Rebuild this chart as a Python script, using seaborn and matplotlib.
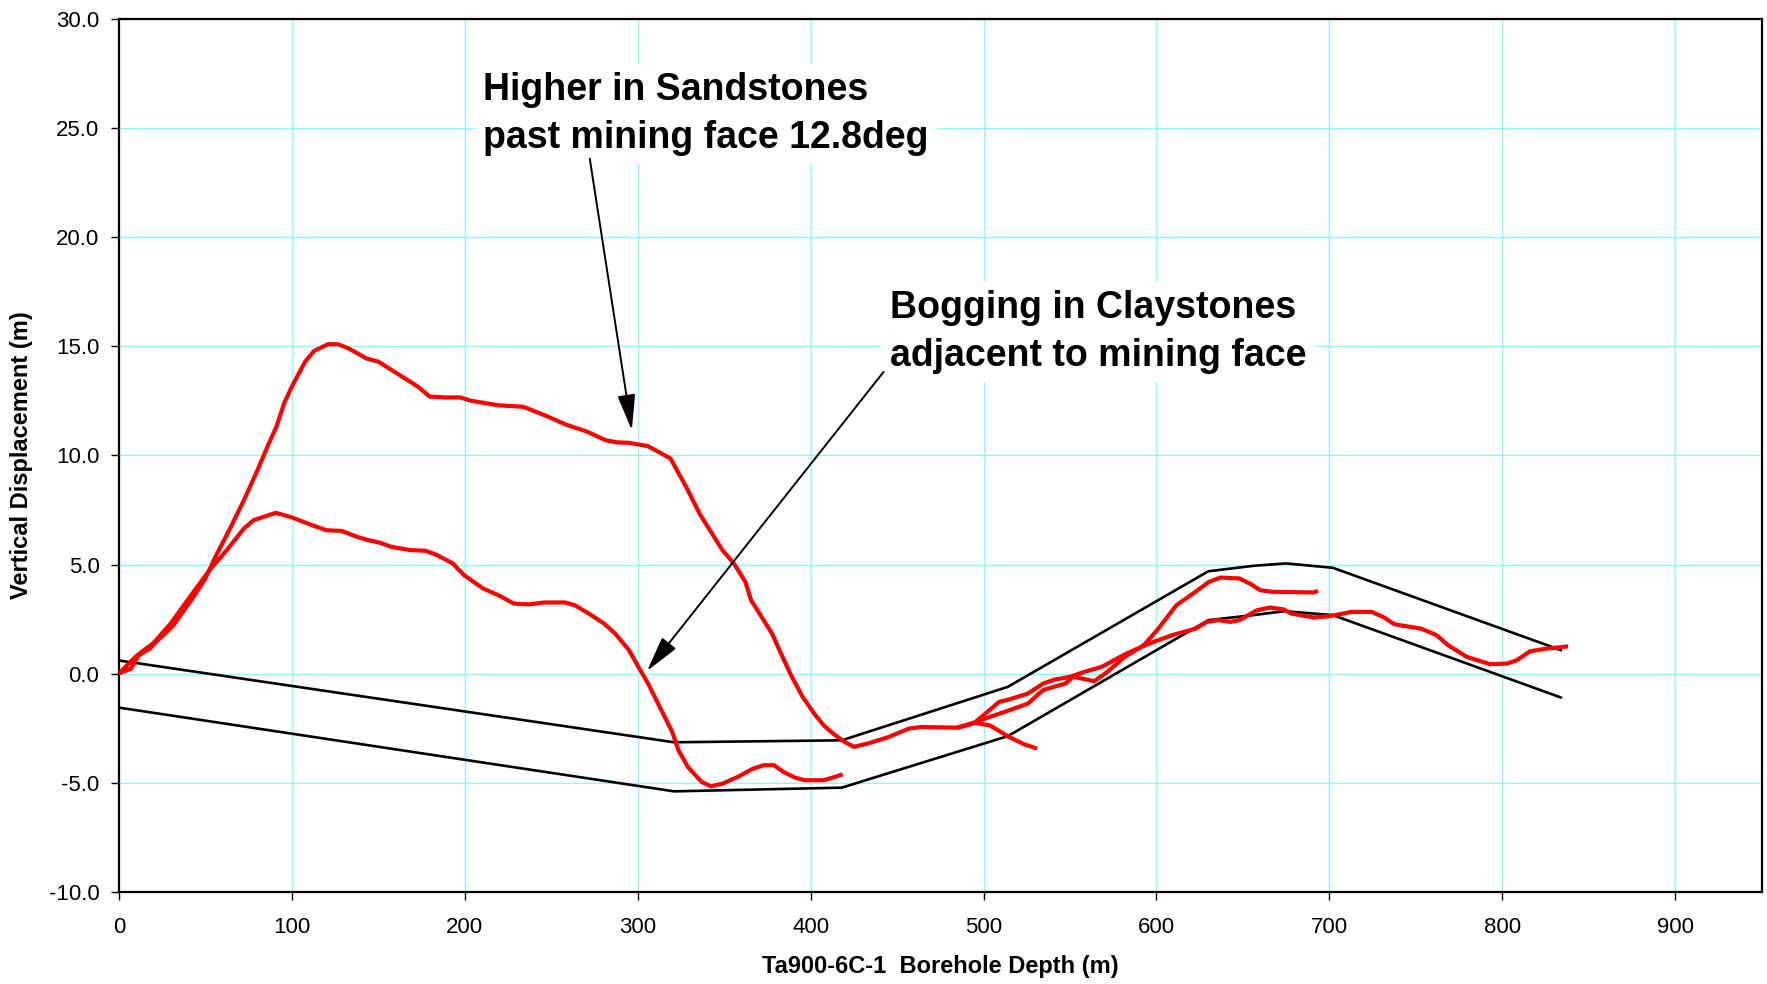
import numpy as np
import pandas as pd
import matplotlib
matplotlib.use("Agg")
import matplotlib.pyplot as plt
import seaborn as sns

# ---- data ----
sand_depth = [0, 7, 11.5, 18, 21.5, 31.4, 42.5, 50, 55.8, 64.6, 72.3, 80, 86.7, 91, 95.6, 100,
              107.7, 113, 121, 126.5, 133, 143, 150, 162, 173, 179.6, 188.5, 197.3, 204, 219.5,
              233.8, 246, 259, 270.4, 281.4, 288, 294.7, 305.8, 319, 328, 336, 349, 355.6, 362.3,
              365.6, 371, 377.7, 382, 388.7, 395.4, 402, 407.5, 413, 419.6, 425, 432.9, 444, 457,
              463.8, 484.8, 494.7, 501, 509, 514.6, 525.6, 534.4, 541, 550, 558.4, 568.4, 582.7,
              596, 609, 622.6, 629.2, 635.8, 642.5, 648, 658, 665.7, 673.5, 677.9, 691, 700, 713,
              724.3, 731, 737.6, 753, 762, 768.6, 779.6, 792.9, 802.9, 808.4, 816, 826, 835, 838]
sand_disp = [0, 0.23, 0.84, 1.15, 1.45, 2.2, 3.44, 4.36, 5.35, 6.7, 7.95, 9.3, 10.55, 11.3, 12.4,
             13.15, 14.3, 14.8, 15.1, 15.1, 14.9, 14.45, 14.3, 13.7, 13.15, 12.7, 12.66, 12.66, 12.5,
             12.3, 12.23, 11.85, 11.4, 11.1, 10.7, 10.6, 10.58, 10.43, 9.86, 8.56, 7.3, 5.66, 5.05,
             4.2, 3.36, 2.68, 1.83, 1.07, -0.08, -1.07, -1.83, -2.37, -2.75, -3.13, -3.36, -3.21,
             -2.94, -2.52, -2.45, -2.48, -2.26, -1.84, -1.3, -1.19, -0.92, -0.46, -0.28, -0.15,
             0.08, 0.31, 0.92, 1.38, 1.76, 2.06, 2.37, 2.45, 2.37, 2.45, 2.9, 3.03, 2.94, 2.75,
             2.57, 2.63, 2.83, 2.83, 2.6, 2.26, 2.06, 1.76, 1.3, 0.76, 0.43, 0.46, 0.61, 1.02,
             1.15, 1.22, 1.25]

clay_depth = [0, 10, 20, 30, 40, 52.4, 62.4, 72.3, 77.9, 90.7, 100, 110, 120, 128.8, 137.6, 144,
              150.9, 157.5, 168.6, 177.4, 184, 193, 199.6, 210.6, 219.5, 228.3, 237, 246, 258,
              263.7, 271.7, 280.6, 287, 295, 300.4, 306, 313.7, 320, 323.6, 329, 337, 342.4, 349,
              357.8, 366.7, 373, 378.8, 384.3, 391, 396.5, 407.5, 414, 418.5]
clay_disp = [0, 0.8, 1.4, 2.3, 3.4, 4.74, 5.66, 6.65, 7.03, 7.37, 7.16, 6.85, 6.57, 6.54, 6.27,
             6.12, 6.0, 5.81, 5.66, 5.63, 5.43, 5.05, 4.51, 3.9, 3.59, 3.21, 3.17, 3.26, 3.26,
             3.13, 2.75, 2.29, 1.83, 1.07, 0.31, -0.46, -1.68, -2.68, -3.52, -4.28, -4.97, -5.17,
             -5.05, -4.74, -4.36, -4.2, -4.2, -4.51, -4.77, -4.89, -4.89, -4.74, -4.62]

branch_depth = [484.8, 494.7, 501, 512, 525.6, 534.4, 541, 547.3, 551.8, 558, 564, 571.7, 581.6,
                592.7, 600.4, 611.5, 622.6, 630.3, 637, 648, 654.6, 660, 666.8, 691, 693.4]
branch_disp = [-2.48, -2.26, -2.06, -1.76, -1.38, -0.76, -0.6, -0.46, -0.15, -0.25, -0.35, 0.08,
               0.76, 1.3, 1.99, 3.13, 3.75, 4.2, 4.4, 4.36, 4.1, 3.82, 3.75, 3.72, 3.79]

tail_depth = [484.8, 494.7, 503.5, 514.6, 523.4, 531]
tail_disp = [-2.48, -2.26, -2.37, -2.9, -3.24, -3.44]

upper_bound_depth = [0, 321, 418, 514, 630, 656, 675, 702, 834]
upper_bound_disp = [0.6, -3.15, -3.06, -0.61, 4.69, 4.94, 5.05, 4.85, 1.07]
lower_bound_depth = [0, 321, 418, 514, 630, 656, 674, 702, 834]
lower_bound_disp = [-1.56, -5.4, -5.23, -2.87, 2.45, 2.68, 2.86, 2.68, -1.1]

x_ticks = [0, 100, 200, 300, 400, 500, 600, 700, 800, 900]
y_ticks = [-10, -5, 0, 5, 10, 15, 20, 25, 30]

x_label = "Ta900-6C-1  Borehole Depth (m)"
y_label = "Vertical Displacement (m)"
note_sand = "Higher in Sandstones\npast mining face 12.8deg"
note_clay = "Bogging in Claystones\nadjacent to mining face"

# ---- build tidy frames ----
def frame(name, xs, ys):
    return pd.DataFrame({"depth": xs, "disp": ys, "series": name})

red_df = pd.concat([
    frame("sand", sand_depth, sand_disp),
    frame("clay", clay_depth, clay_disp),
    frame("branch", branch_depth, branch_disp),
    frame("tail", tail_depth, tail_disp),
], ignore_index=True)
black_df = pd.concat([
    frame("upper", upper_bound_depth, upper_bound_disp),
    frame("lower", lower_bound_depth, lower_bound_disp),
], ignore_index=True)

sns.set_style("white")
plt.rcParams["font.family"] = ["Liberation Sans", "DejaVu Sans"]
for key in ["text.color", "axes.labelcolor", "xtick.color", "ytick.color"]:
    plt.rcParams[key] = "black"

fig = plt.figure(figsize=(17.67, 9.84), dpi=100)
ax = fig.add_axes([0.0673, 0.0938, 0.9297, 0.8867])

sns.lineplot(data=black_df, x="depth", y="disp", units="series", estimator=None, sort=False,
             color="black", linewidth=1.9, ax=ax, zorder=3)
sns.lineplot(data=red_df, x="depth", y="disp", units="series", estimator=None, sort=False,
             color="#ff0000", linewidth=3.0, ax=ax, zorder=4,
             solid_joinstyle="round", solid_capstyle="butt")

ax.set_xlim(0, 950)
ax.set_ylim(-10, 30)
ax.set_xticks(x_ticks)
ax.set_yticks(y_ticks)
ax.set_yticklabels([f"{v:.1f}" for v in y_ticks])
ax.tick_params(axis="both", labelsize=16, direction="out", length=6, width=1.0,
               color="black", labelcolor="black", left=True, bottom=True)
ax.tick_params(axis="x", pad=12)
ax.tick_params(axis="y", pad=8)

ax.grid(True, color="#80ffff", linewidth=0.9)
ax.set_axisbelow(True)
for s in ax.spines.values():
    s.set_color("black")
    s.set_linewidth(1.6)

ax.set_xlabel(x_label, fontsize=17, fontweight="bold", color="black")
ax.set_ylabel(y_label, fontsize=17, fontweight="bold", color="black")
ax.xaxis.set_label_coords(0.5, -0.073)
ax.yaxis.set_label_coords(-0.052, 0.5)

box = dict(facecolor="white", edgecolor="none", pad=6)
ax.text(210.5, 24.1, note_sand, fontsize=27, fontweight="bold", ha="left", va="baseline",
        linespacing=1.42, bbox=box, zorder=5, color="black")
ax.text(446, 14.1, note_clay, fontsize=27, fontweight="bold", ha="left", va="baseline",
        linespacing=1.42, bbox=box, zorder=5, color="black")

arrow = dict(arrowstyle="-|>,head_length=1.0,head_width=0.25", color="black", lw=1.4,
             shrinkA=0, shrinkB=0, mutation_scale=22)
ax.annotate("", xy=(296.6, 11.16), xytext=(272.3, 23.6), arrowprops=arrow, zorder=6)
ax.annotate("", xy=(305.4, 0.12), xytext=(442.2, 13.83), arrowprops=arrow, zorder=6)

fig.savefig("out.png", dpi=100, facecolor="white")
